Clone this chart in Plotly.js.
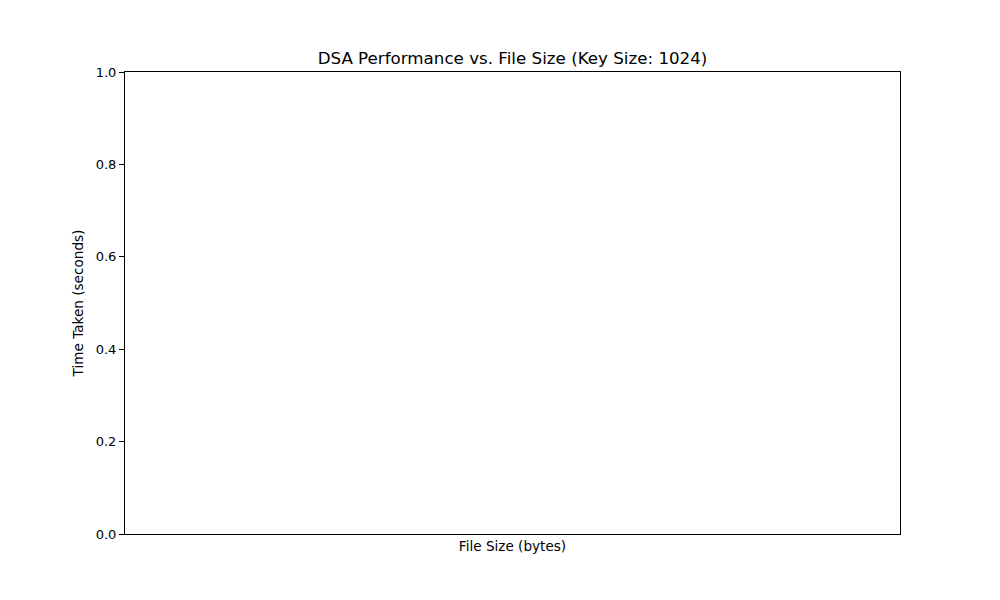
<!DOCTYPE html>
<html>
<head>
<meta charset="utf-8">
<script src="https://cdn.plot.ly/plotly-3.0.1.min.js"></script>
<style>html,body{margin:0;padding:0;background:#fff;}#chart{width:1000px;height:600px;}</style>
</head>
<body>
<div id="chart"></div>
<script>
// Data: the reference chart has no plotted values (empty axes)
var fileSizes = [];
var timesTaken = [];
var yTickValues = [0.0, 0.2, 0.4, 0.6, 0.8, 1.0];

var traces = [{
  x: fileSizes,
  y: timesTaken,
  type: 'scatter',
  mode: 'lines+markers',
  showlegend: false
}];

var layout = {
  width: 1000,
  height: 600,
  paper_bgcolor: '#ffffff',
  plot_bgcolor: '#ffffff',
  font: {family: 'DejaVu Sans', size: 13, color: '#000'},
  margin: {l: 125, r: 100, t: 72, b: 66},
  showlegend: false,
  title: {
    text: 'DSA Performance vs. File Size (Key Size: 1024)',
    font: {family: 'DejaVu Sans', size: 16.7, color: '#000'},
    x: 0.5125, xanchor: 'center',
    y: 1 - 58/600, yanchor: 'middle'
  },
  xaxis: {
    range: [0, 1],
    showticklabels: false,
    ticks: '',
    showgrid: false,
    zeroline: false,
    showline: true,
    mirror: true,
    linecolor: '#000',
    linewidth: 1,
    fixedrange: true,
    title: {text: 'File Size (bytes)', font: {family: 'DejaVu Sans', size: 13.6, color: '#000'}, standoff: 7}
  },
  yaxis: {
    range: [0, 1],
    tickvals: yTickValues,
    ticktext: yTickValues.map(function(v){return v.toFixed(1);}),
    tickfont: {family: 'DejaVu Sans', size: 13, color: '#000'},
    ticks: 'outside',
    ticklen: 5,
    tickwidth: 1,
    tickcolor: '#000',
    showgrid: false,
    zeroline: false,
    showline: true,
    mirror: true,
    linecolor: '#000',
    linewidth: 1,
    fixedrange: true,
    title: {text: 'Time Taken (seconds)', font: {family: 'DejaVu Sans', size: 13.6, color: '#000'}, standoff: 8}
  }
};

Plotly.newPlot('chart', traces, layout, {displayModeBar: false, staticPlot: true});
</script>
</body>
</html>
